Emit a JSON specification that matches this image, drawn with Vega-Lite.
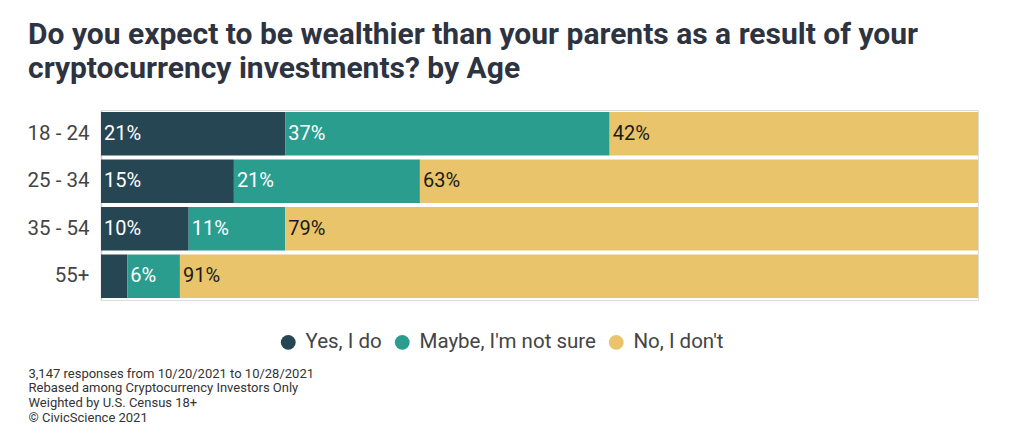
{
  "$schema": "https://vega.github.io/schema/vega-lite/v6.json",
  "autosize": "none",
  "width": 877,
  "height": 190,
  "padding": {"left": 101, "top": 110, "right": 46, "bottom": 141},
  "background": "white",
  "title": {
    "text": ["Do you expect to be wealthier than your parents as a result of your", "cryptocurrency investments? by Age"],
    "anchor": "start",
    "frame": "group",
    "dx": -73,
    "offset": 26,
    "font": "Roboto",
    "fontSize": 30,
    "fontWeight": "bold",
    "color": "#2d3340",
    "lineHeight": 34
  },
  "data": {
    "values": [
      {"age": "18 - 24", "answer": "Yes, I do", "k": 1, "value": 21},
      {"age": "18 - 24", "answer": "Maybe, I'm not sure", "k": 2, "value": 37},
      {"age": "18 - 24", "answer": "No, I don't", "k": 3, "value": 42},
      {"age": "25 - 34", "answer": "Yes, I do", "k": 1, "value": 15},
      {"age": "25 - 34", "answer": "Maybe, I'm not sure", "k": 2, "value": 21},
      {"age": "25 - 34", "answer": "No, I don't", "k": 3, "value": 63},
      {"age": "35 - 54", "answer": "Yes, I do", "k": 1, "value": 10},
      {"age": "35 - 54", "answer": "Maybe, I'm not sure", "k": 2, "value": 11},
      {"age": "35 - 54", "answer": "No, I don't", "k": 3, "value": 79},
      {"age": "55+", "answer": "Yes, I do", "k": 1, "value": 3},
      {"age": "55+", "answer": "Maybe, I'm not sure", "k": 2, "value": 6},
      {"age": "55+", "answer": "No, I don't", "k": 3, "value": 91}
    ]
  },
  "transform": [
    {"stack": "value", "groupby": ["age"], "sort": [{"field": "k", "order": "ascending"}], "offset": "normalize", "as": ["v0", "v1"]}
  ],
  "encoding": {
    "y": {
      "field": "age",
      "type": "nominal",
      "sort": ["18 - 24", "25 - 34", "35 - 54", "55+"],
      "scale": {"paddingInner": 0.08, "paddingOuter": 0.04},
      "axis": {
        "title": null,
        "ticks": false,
        "labelFont": "Roboto",
        "labelFontSize": 20.5,
        "labelColor": "#444",
        "labelPadding": 12,
        "domainColor": "#cccccc",
        "domainWidth": 1.5
      }
    }
  },
  "layer": [
    {
      "mark": {"type": "bar"},
      "encoding": {
        "x": {
          "field": "v0",
          "type": "quantitative",
          "scale": {"domain": [0, 1], "nice": false},
          "axis": {
            "grid": false,
            "labels": false,
            "ticks": false,
            "domain": false,
            "title": ["3,147 responses from 10/20/2021 to 10/28/2021", "Rebased among Cryptocurrency Investors Only", "Weighted by U.S. Census 18+", "© CivicScience 2021"],
            "titleFont": "Roboto",
            "titleFontSize": 13,
            "titleFontWeight": "normal",
            "titleColor": "#333",
            "titleAnchor": "start",
            "titleAlign": "left",
            "titleBaseline": "top",
            "titleLineHeight": 14.7,
            "titleX": -73,
            "titleY": 67
          }
        },
        "x2": {"field": "v1"},
        "color": {
          "field": "answer",
          "type": "nominal",
          "sort": ["Yes, I do", "Maybe, I'm not sure", "No, I don't"],
          "scale": {
            "domain": ["Yes, I do", "Maybe, I'm not sure", "No, I don't"],
            "range": ["#264653", "#2a9d8f", "#e9c46a"]
          },
          "legend": {
            "title": null,
            "orient": "none",
            "direction": "horizontal",
            "legendX": 177,
            "legendY": 222,
            "symbolType": "circle",
            "symbolSize": 220,
            "symbolStrokeWidth": 0,
            "labelFont": "Roboto",
            "labelFontSize": 20.5,
            "labelColor": "#444",
            "labelLimit": 400,
            "columnPadding": 10,
            "labelOffset": 7
          }
        }
      }
    },
    {
      "transform": [
        {"filter": "datum.value >= 5"},
        {"calculate": "datum.value + '%'", "as": "label"}
      ],
      "mark": {"type": "text", "align": "left", "dx": 3, "font": "Roboto", "fontSize": 20},
      "encoding": {
        "x": {"field": "v0", "type": "quantitative"},
        "text": {"field": "label", "type": "nominal"},
        "color": {
          "condition": {"test": "datum.k === 3", "value": "#1a1a1a"},
          "value": "white"
        }
      }
    }
  ]
}
